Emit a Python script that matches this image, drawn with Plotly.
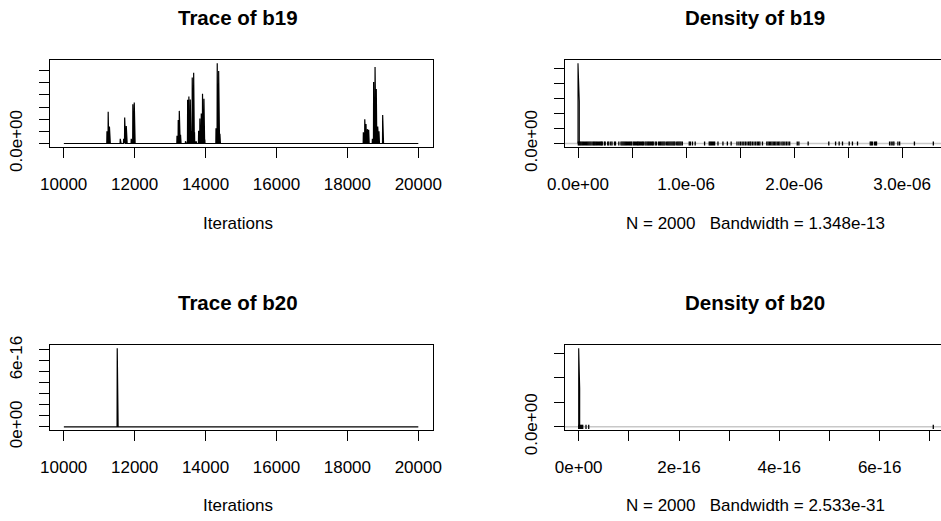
import plotly.graph_objects as go

W, H = 941, 521

# ---------------- data ----------------
iter_start, iter_end, thin = 10005, 20000, 5

# b19 trace: iterations where chain left zero, and values (x 1e-6)
b19_spike_iter = [11220, 11255, 11290, 11595, 11690, 11720, 11765, 11905, 11950, 11990,
                  13195, 13230, 13260, 13295, 13435, 13495, 13530, 13570, 13595, 13625,
                  13665, 13690, 13730, 13805, 13840, 13880, 13915, 13955, 13980, 14295,
                  14330, 14370, 14405, 18450, 18490, 18525, 18565, 18600, 18705, 18740,
                  18780, 18815, 18855, 18890, 18995]
b19_spike_val = [0.50, 1.30, 0.70, 0.19, 0.19, 1.07, 0.72, 0.19, 1.61, 1.68,
                 0.32, 0.97, 1.34, 0.36, 0.09, 1.80, 1.93, 1.81, 0.50, 2.71,
                 2.91, 0.46, 0.09, 0.52, 1.03, 1.23, 2.04, 1.84, 0.16, 0.63,
                 3.30, 2.98, 0.40, 0.46, 1.00, 0.80, 0.59, 0.56, 0.19, 2.53,
                 3.14, 2.24, 0.70, 0.50, 1.17]

# b20 trace
b20_spike_iter = [11510]
b20_spike_val = [7.08e-16]

# rug values (distinct sampled values) for b19 (x 1e-6)
b19_rug = [0.003, 0.012, 0.021, 0.030, 0.040, 0.050, 0.060, 0.070, 0.080, 0.090, 0.100,
           0.110, 0.120, 0.131, 0.142, 0.151, 0.160, 0.170, 0.180, 0.190, 0.200, 0.210,
           0.218, 0.225, 0.244, 0.252, 0.275, 0.285, 0.303, 0.315, 0.338, 0.347, 0.378,
           0.398, 0.408, 0.418, 0.428, 0.438, 0.448, 0.458, 0.468, 0.478, 0.488, 0.497,
           0.512, 0.522, 0.532, 0.542, 0.552, 0.558, 0.568, 0.578, 0.588, 0.598, 0.605,
           0.620, 0.630, 0.641, 0.651, 0.660, 0.670, 0.680, 0.690, 0.697, 0.715, 0.726,
           0.745, 0.755, 0.765, 0.776, 0.786, 0.796, 0.806, 0.821, 0.831, 0.841, 0.851,
           0.861, 0.871, 0.881, 0.890, 0.898, 0.914, 0.924, 0.934, 0.944, 0.954, 0.966,
           1.030, 1.041, 1.060, 1.085, 1.172, 1.215, 1.225, 1.235, 1.245, 1.255, 1.265,
           1.296, 1.342, 1.383, 1.418, 1.472, 1.490, 1.505, 1.520, 1.535, 1.550, 1.565,
           1.580, 1.592, 1.600, 1.615, 1.630, 1.645, 1.660, 1.672, 1.684, 1.708, 1.748,
           1.760, 1.772, 1.784, 1.796, 1.808, 1.820, 1.832, 1.845, 1.858, 1.870, 1.888,
           1.900, 1.915, 1.930, 1.945, 1.960, 2.030, 2.045, 2.131, 2.322, 2.385, 2.418,
           2.449, 2.511, 2.541, 2.588, 2.706, 2.716, 2.726, 2.745, 2.756, 2.764, 2.885,
           2.900, 2.915, 2.925, 2.962, 2.978, 3.115, 3.290]

# rug values for b20
b20_rug = [0.0, 0.02e-16, 0.04e-16, 0.06e-16, 0.08e-16, 0.146e-16, 0.20e-16, 7.07e-16]

# kernel density estimates (grid x, density y)
b19_dens_x = [0.0, 0.0, 1.2e-8, 1.2e-8]
b19_dens_y = [0.0, 2.67e12, 1.40e12, 0.0]
b20_dens_x = [0.0, 0.0, 2.0e-18, 2.0e-18]
b20_dens_y = [0.0, 1.60e30, 7.8e29, 0.0]

titles = ["Trace of b19", "Density of b19", "Trace of b20", "Density of b20"]
xlabels = ["Iterations", "N = 2000   Bandwidth = 1.348e-13",
           "Iterations", "N = 2000   Bandwidth = 2.533e-31"]

trace_xticks = [10000, 12000, 14000, 16000, 18000, 20000]

# ---------------- build series ----------------
iters = list(range(iter_start, iter_end + 1, thin))
b19_map = dict(zip(b19_spike_iter, b19_spike_val))
b19_vals = [b19_map.get(i, 0.0) * 1e-6 for i in iters]
b20_map = dict(zip(b20_spike_iter, b20_spike_val))
b20_vals = [b20_map.get(i, 0.0) for i in iters]
b19_rug_vals = [v * 1e-6 for v in b19_rug]

FONT = "Liberation Sans, Arial, sans-serif"
BLACK = "#000000"

fig = go.Figure()

def line(x, y, xa, ya, width=1.2, color=BLACK):
    fig.add_trace(go.Scatter(x=x, y=y, mode="lines", xaxis=xa, yaxis=ya,
                             line=dict(color=color, width=width), hoverinfo="skip",
                             showlegend=False))

def rug(x, xa, ya):
    fig.add_trace(go.Scatter(x=x, y=[0] * len(x), mode="markers",
                             xaxis=xa, yaxis=ya, hoverinfo="skip", showlegend=False,
                             marker=dict(symbol="line-ns", size=3,
                                         line=dict(color=BLACK, width=1.3))))

# panel 1
line(iters, b19_vals, "x", "y", width=1.2)
# panel 2: zero line, density, rug
line([-1e-6, 4e-6], [0, 0], "x2", "y2", width=1.5, color="#c8c8c8")
line(b19_dens_x, b19_dens_y, "x2", "y2", width=1.1)
rug(b19_rug_vals, "x2", "y2")
# panel 3
line(iters, b20_vals, "x3", "y3", width=1.2)
# panel 4
line([-1e-15, 1e-15], [0, 0], "x4", "y4", width=1.5, color="#c8c8c8")
line(b20_dens_x, b20_dens_y, "x4", "y4", width=1.1)
rug(b20_rug, "x4", "y4")

def px_x(p):
    return p / W

def px_y(p):
    return 1 - p / H

tickfont = dict(family=FONT, size=17, color=BLACK)
axcommon = dict(showgrid=False, zeroline=False, showline=True, linecolor=BLACK,
                linewidth=1, ticks="outside", ticklen=10, tickwidth=1,
                tickcolor=BLACK, tickfont=tickfont, automargin=False)

row1 = [px_y(146.7), px_y(60)]
row2 = [px_y(430), px_y(345)]
left = [px_x(49.5), px_x(432.5)]
right = [px_x(565), 1.0]

fig.update_layout(
    template="none",
    xaxis=dict(axcommon, domain=left, anchor="y", range=[9600, 20400],
               tickvals=trace_xticks, ticktext=[str(t) for t in trace_xticks],
               mirror=True, ticklabelstandoff=12),
    yaxis=dict(axcommon, domain=row1, anchor="x", range=[-0.132e-6, 3.432e-6],
               tickvals=[0, 0.5e-6, 1e-6, 1.5e-6, 2e-6, 2.5e-6, 3e-6],
               ticktext=["0.0e+00", "", "", "", "", "", ""], tickangle=-90,
               mirror=True, ticklabelstandoff=10),
    xaxis2=dict(axcommon, domain=right, anchor="y2", range=[-0.1204e-6, 3.361e-6],
                tickvals=[0, 0.5e-6, 1e-6, 1.5e-6, 2e-6, 2.5e-6, 3e-6],
                ticktext=["0.0e+00", "", "1.0e-06", "", "2.0e-06", "", "3.0e-06"],
                mirror=True, ticklabelstandoff=12),
    yaxis2=dict(axcommon, domain=row1, anchor="x2", range=[-0.107e12, 2.777e12],
                tickvals=[0, 0.5e12, 1e12, 1.5e12, 2e12, 2.5e12],
                ticktext=["0.0e+00", "", "", "", "", ""], tickangle=-90,
                ticklabelstandoff=10),
    xaxis3=dict(axcommon, domain=left, anchor="y3", range=[9600, 20400],
                tickvals=trace_xticks, ticktext=[str(t) for t in trace_xticks],
                mirror=True, ticklabelstandoff=12),
    yaxis3=dict(axcommon, domain=row2, anchor="x3", range=[-0.283e-16, 7.363e-16],
                tickvals=[i * 1e-16 for i in range(8)],
                ticktext=["0e+00", "", "", "", "", "", "6e-16", ""], tickangle=-90,
                mirror=True, ticklabelstandoff=10),
    xaxis4=dict(axcommon, domain=right, anchor="y4", range=[-0.273e-16, 7.224e-16],
                tickvals=[i * 1e-16 for i in range(8)],
                ticktext=["0e+00", "", "2e-16", "", "4e-16", "", "6e-16", ""],
                mirror=True, ticklabelstandoff=12),
    yaxis4=dict(axcommon, domain=row2, anchor="x4", range=[-0.064e30, 1.664e30],
                tickvals=[0, 0.5e30, 1e30, 1.5e30],
                ticktext=["0.0e+00", "", "", ""], tickangle=-90,
                ticklabelstandoff=10),
    width=W, height=H, margin=dict(l=0, r=0, t=0, b=0, autoexpand=False),
    paper_bgcolor="white", plot_bgcolor="white",
    font=dict(family=FONT, size=17, color=BLACK),
)

title_pos = [(238, 18), (755, 18), (238, 302), (755, 302)]
label_pos = [(238, 223), (755, 223), (238, 505), (755, 505)]
for t, (x, y) in zip(titles, title_pos):
    fig.add_annotation(text="<b>%s</b>" % t, x=px_x(x), y=px_y(y), xref="paper",
                       yref="paper", showarrow=False, xanchor="center", yanchor="middle",
                       font=dict(family=FONT, size=20.5, color=BLACK))
for t, (x, y) in zip(xlabels, label_pos):
    fig.add_annotation(text=t, x=px_x(x), y=px_y(y), xref="paper", yref="paper",
                       showarrow=False, xanchor="center", yanchor="middle",
                       font=dict(family=FONT, size=17, color=BLACK))

fig.write_html("out.html")
